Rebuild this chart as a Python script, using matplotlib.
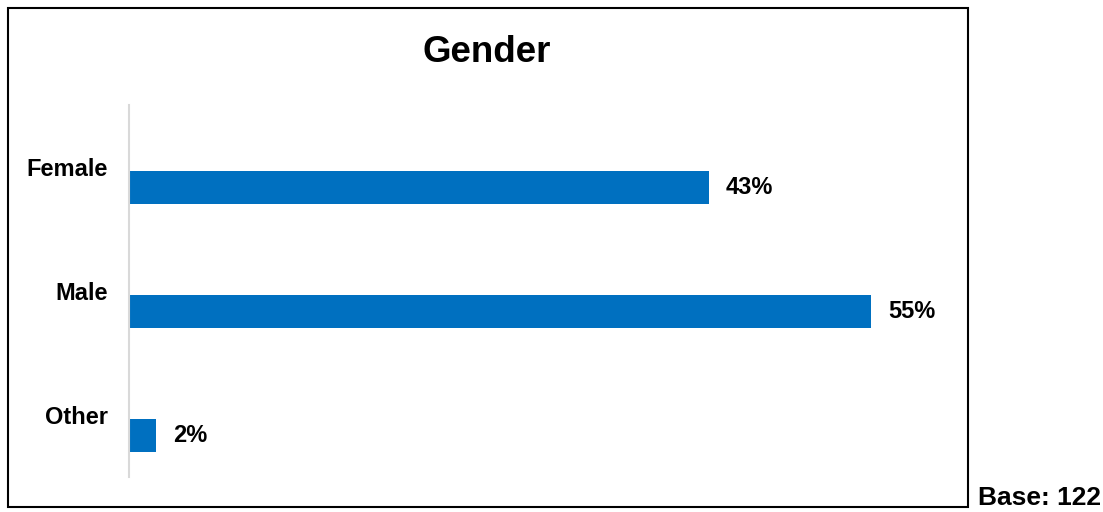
import matplotlib.pyplot as plt
from matplotlib.patches import Rectangle

# data
categories = ["Female", "Male", "Other"]
values = [43, 55, 2]
base_n = 122

plt.rcParams['font.family'] = ['Liberation Sans', 'DejaVu Sans']
plt.rcParams['font.weight'] = 'bold'

W, H = 1103, 512
fig = plt.figure(figsize=(W / 100, H / 100), dpi=100)

# outer frame around the chart area
fig.patches.append(Rectangle((8 / W, 1 - 507 / H), 960 / W, 499 / H,
                             transform=fig.transFigure, fill=False,
                             edgecolor='black', linewidth=1.5))

# axes: left edge at x=129px, top 105px, bottom 477px
px_per_pct = 13.49
xmax = 60
ax = fig.add_axes([129 / W, 1 - 477 / H, xmax * px_per_pct / W, 372 / H])

pos = list(range(len(categories)))
offset = 20 / 124
bars = ax.barh([p + offset for p in pos], values, height=33 / 124, color='#0070C0')

for p, v in zip(pos, values):
    ax.text(v + 17 / px_per_pct, p + offset, f"{v}%", va='center', ha='left',
            fontsize=17, fontweight='bold')

ax.set_xlim(0, xmax)
ax.set_ylim(len(categories) - 0.5, -0.5)
ax.set_yticks(pos)
ax.set_yticklabels(categories, fontsize=17, fontweight='bold')
ax.tick_params(axis='y', length=0, pad=15)
ax.set_xticks([])
for s in ['top', 'right', 'bottom']:
    ax.spines[s].set_visible(False)
ax.spines['left'].set_color('#d9d9d9')
ax.spines['left'].set_linewidth(1.5)

fig.text(487 / W, 1 - 52 / H, "Gender", ha='center', va='center',
         fontsize=26.5, fontweight='bold')
fig.text(1101 / W, 1 - 498 / H, f"Base: {base_n}", ha='right', va='center',
         fontsize=19, fontweight='bold')

fig.savefig('out.png', dpi=100)
